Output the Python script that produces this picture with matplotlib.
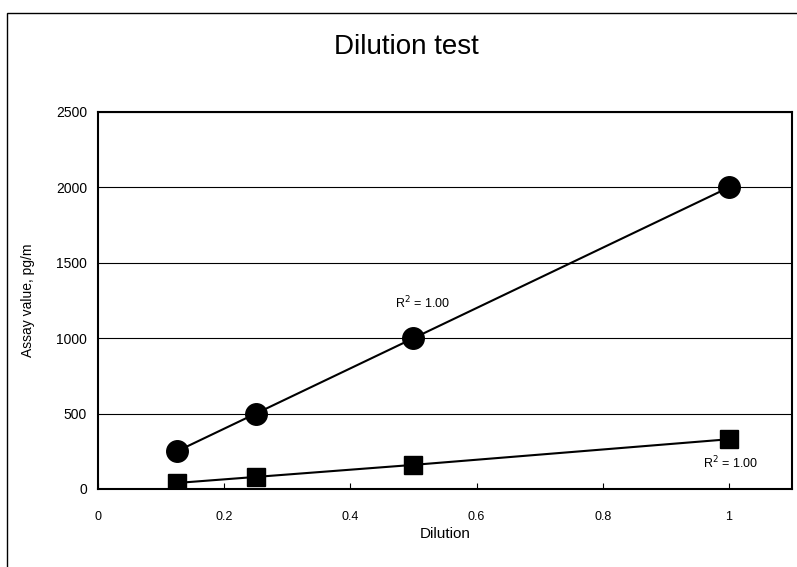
import matplotlib
matplotlib.use("Agg")
import matplotlib.pyplot as plt
from matplotlib.patches import Rectangle

plt.rcParams['font.family'] = ['Liberation Sans', 'DejaVu Sans']

dilution = [0.125, 0.25, 0.5, 1.0]
series_circle = [250, 500, 1000, 2000]
series_square = [40, 80, 160, 330]
x_ticks = [0, 0.2, 0.4, 0.6, 0.8, 1]
x_tick_labels = ["0", "0.2", "0.4", "0.6", "0.8", "1"]
y_ticks = [0, 500, 1000, 1500, 2000, 2500]
r2_labels = ["R$^2$ = 1.00", "R$^2$ = 1.00"]

fig = plt.figure(figsize=(7.97, 5.67), dpi=100)
ax = fig.add_axes([98/797, 1-489/567, (792-98)/797, (489-112)/567])

fig.patches.append(Rectangle((7/797, -0.02), 1.1, (567-13)/567 + 0.02,
                             transform=fig.transFigure, fill=False,
                             edgecolor='black', linewidth=1.0))

ax.plot(dilution, series_circle, color='black', linewidth=1.5, marker='o',
        markersize=15.5, markerfacecolor='black', markeredgecolor='black', zorder=3)
ax.plot(dilution, series_square, color='black', linewidth=1.5, marker='s',
        markersize=13, markerfacecolor='black', markeredgecolor='black', zorder=3)

ax.set_xlim(0, 1.1)
ax.set_ylim(0, 2500)
ax.set_xticks(x_ticks)
ax.set_xticklabels(x_tick_labels)
ax.set_yticks(y_ticks)
ax.yaxis.grid(True, color='black', linewidth=0.8)
ax.set_axisbelow(True)
ax.tick_params(axis='x', direction='in', length=4, width=0.8, labelsize=9, pad=16)
ax.tick_params(axis='y', length=0, labelsize=10, pad=8)
for s in ax.spines.values():
    s.set_linewidth(1.5)
    s.set_color('black')

ax.set_xlabel("Dilution", fontsize=11, labelpad=3)
ax.set_ylabel("Assay value, pg/m", fontsize=10, labelpad=15)
fig.text(406/797, 1-47/567, "Dilution test", ha='center', va='center', fontsize=20)

ax.text(0.47, 1233, r2_labels[0], fontsize=9, ha='left', va='center')
ax.text(0.959, 172, r2_labels[1], fontsize=9, ha='left', va='center')

fig.savefig("out.png", dpi=100)
